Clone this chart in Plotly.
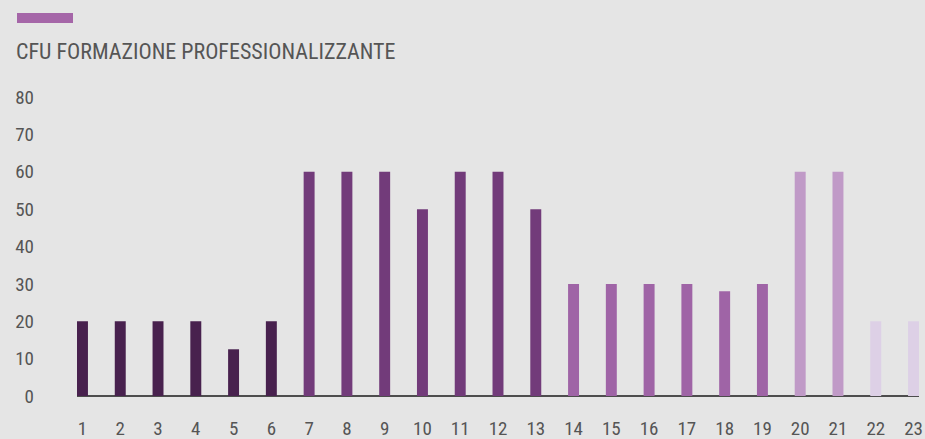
import plotly.graph_objects as go

categories = [str(i) for i in range(1, 24)]
values = [20, 20, 20, 20, 12.5, 20, 60, 60, 60, 50, 60, 60, 50,
          30, 30, 30, 30, 28, 30, 60, 60, 20, 20]
y_ticks = [0, 10, 20, 30, 40, 50, 60, 70, 80]
title_text = "CFU FORMAZIONE PROFESSIONALIZZANTE"

group_colors = (["#48214e"] * 6 + ["#723b7a"] * 7 + ["#9f64a6"] * 6
                + ["#c09ac7"] * 2 + ["#ddd0e6"] * 2)

FONT = "Roboto Condensed, Liberation Sans Narrow, Arial Narrow, sans-serif"
TXT = "#555555"

fig = go.Figure()
fig.add_trace(go.Bar(
    x=list(range(1, 24)), y=values,
    marker=dict(color=group_colors, line=dict(width=0)),
    width=0.29, showlegend=False, hoverinfo="x+y",
))

fig.update_layout(
    width=925, height=439,
    paper_bgcolor="#e5e5e5", plot_bgcolor="#e5e5e5",
    margin=dict(l=77, r=6, t=97, b=43),
    font=dict(family=FONT, color=TXT, size=19),
    title=dict(text=title_text, xref="container", yref="container",
               x=16 / 925, y=1 - 51 / 439, xanchor="left", yanchor="middle",
               font=dict(family=FONT, size=22, color=TXT)),
    xaxis=dict(range=[0.855, 23.145], tickmode="array",
               tickvals=list(range(1, 24)), ticktext=categories,
               showgrid=False, zeroline=False, showline=False,
               ticks="", ticklabelstandoff=19, automargin=False,
               tickfont=dict(family=FONT, size=19, color=TXT)),
    yaxis=dict(range=[0, 80], tickmode="array", tickvals=y_ticks,
               showgrid=False, zeroline=True, zerolinecolor="#4d4d4d",
               zerolinewidth=1.5, showline=False, ticks="",
               ticklabelstandoff=42, automargin=False,
               tickfont=dict(family=FONT, size=19, color=TXT)),
    shapes=[dict(type="rect", xref="paper", yref="paper",
                 x0=(17 - 77) / 842, x1=(73 - 77) / 842,
                 y0=(396 - 23) / 299, y1=(396 - 13) / 299,
                 fillcolor="#a566a8", line=dict(width=0))],
)

fig.write_html(
    "out.html",
    config={"displayModeBar": False},
    post_script="document.body.style.margin='0';document.body.style.overflow='hidden';",
)
